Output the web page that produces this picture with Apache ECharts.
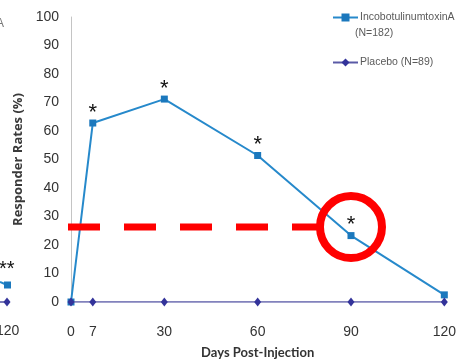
<!DOCTYPE html>
<html>
<head>
<meta charset="utf-8">
<script src="https://cdn.jsdelivr.net/npm/echarts@6/dist/echarts.min.js"></script>
<style>
  html, body { margin: 0; padding: 0; background: #fff; }
  #chart { width: 459px; height: 364px; }
</style>
</head>
<body>
<div id="chart"></div>
<script>
// Responder rates over time after injection
const days = [0, 7, 30, 60, 90, 120];
const dayTicks = [0, 7, 30, 60, 90, 120];
const incobot = [0, 62.8, 71.2, 51.4, 23.3, 2.5];
const placebo = [0, 0, 0, 0, 0, 0];
const significant = [false, true, true, true, true, false];
const seriesNames = ['IncobotulinumtoxinA', 'Placebo (N=89)'];
const highlightLevel = 26.3;   // level marked by the dashed guide
const highlightDay = 90;

const FONT = '"Liberation Sans", Arial, sans-serif';
const TITLE_FONT = 'Lato, "Open Sans", Arial, sans-serif';
const BLUE = '#2689cb';
const BLUE_MARK = '#1b78bd';
const PURPLE = '#5a5aa6';
const PURPLE_MARK = '#33339a';

const chart = echarts.init(document.getElementById('chart'), null, { renderer: 'canvas' });

const option = {
  animation: false,
  backgroundColor: '#fff',
  grid: { left: 71, right: 8, top: 17, bottom: 62, containLabel: false },
  legend: {
    left: 327, top: 7, orient: 'vertical', padding: 5,
    itemWidth: 25, itemHeight: 10, itemGap: 34,
    textStyle: { fontFamily: FONT, fontSize: 10.5, color: '#5a5a5a', padding: [0, 0, 0, -3] },
    data: seriesNames
  },
  xAxis: {
    type: 'value', min: 0, max: 120,
    name: 'Days Post-Injection', nameLocation: 'middle', nameGap: 44,
    nameTextStyle: { fontFamily: TITLE_FONT, fontWeight: 'bold', fontSize: 13, color: '#333' },
    axisLine: { show: false },
    axisTick: { show: false },
    splitLine: { show: false },
    axisLabel: {
      customValues: dayTicks, margin: 23,
      fontFamily: FONT, fontSize: 14, color: '#333'
    }
  },
  yAxis: {
    type: 'value', min: 0, max: 100, interval: 10,
    name: 'Responder Rates (%)', nameLocation: 'middle', nameGap: 33,
    nameTextStyle: { fontFamily: '"Open Sans", Arial, sans-serif', fontWeight: 'bold', fontSize: 13, color: '#3a3a3a' },
    axisLine: { show: true, lineStyle: { color: '#c4c4c4', width: 1 } },
    axisTick: { show: false },
    splitLine: { show: false },
    axisLabel: { margin: 12, fontFamily: FONT, fontSize: 14, color: '#333' }
  },
  series: [
    {
      name: seriesNames[0], type: 'line',
      data: days.map((d, i) => ({
        value: [d, incobot[i]],
        label: { show: significant[i] }
      })),
      symbol: 'rect', symbolSize: 7,
      lineStyle: { color: BLUE, width: 2 },
      itemStyle: { color: BLUE_MARK },
      label: {
        show: false, position: 'top', distance: -4,
        formatter: '*', fontFamily: 'Arial, sans-serif', fontSize: 22, color: '#111'
      },
      z: 3
    },
    {
      name: seriesNames[1], type: 'line',
      data: days.map((d, i) => [d, placebo[i]]),
      symbol: 'diamond', symbolSize: [7, 9],
      lineStyle: { color: PURPLE, width: 1.6 },
      itemStyle: { color: PURPLE_MARK },
      z: 4
    }
  ]
};

chart.setOption(option);

// Annotation: dashed guide to the highlighted point and a ring around it
const center = chart.convertToPixel({ gridIndex: 0 }, [highlightDay, highlightLevel]);
const axisLeft = chart.convertToPixel({ gridIndex: 0 }, [0, 0])[0];
const ringR = 31;

chart.setOption({
  graphic: [
    {
      type: 'line', silent: true, z: 10,
      shape: { x1: axisLeft - 3, y1: center[1], x2: center[0] - ringR, y2: center[1] },
      style: { stroke: '#ff0000', lineWidth: 7, lineDash: [32, 24] }
    },
    {
      type: 'circle', silent: true, z: 10,
      shape: { cx: center[0], cy: center[1], r: ringR },
      style: { fill: 'transparent', stroke: '#ff0000', lineWidth: 8 }
    },
    {
      type: 'text', left: 355, top: 28, silent: true,
      style: { text: '(N=182)', font: '10.5px ' + FONT, fill: '#5a5a5a' }
    },
    // Edge of the neighbouring panel
    {
      type: 'text', left: -4, top: 18, silent: true,
      style: { text: 'A', font: '12px ' + FONT, fill: '#777' }
    },
    {
      type: 'text', left: -1, top: 259, silent: true,
      style: { text: '**', font: '20px Arial, sans-serif', fill: '#111' }
    },
    {
      type: 'polyline', silent: true,
      shape: { points: [[0, 282], [7, 285]] },
      style: { stroke: BLUE, lineWidth: 2, fill: null }
    },
    {
      type: 'rect', silent: true,
      shape: { x: 4, y: 281.5, width: 7, height: 7 },
      style: { fill: BLUE_MARK }
    },
    {
      type: 'line', silent: true,
      shape: { x1: 0, y1: 302, x2: 8, y2: 302 },
      style: { stroke: PURPLE, lineWidth: 1.6 }
    },
    {
      type: 'polygon', silent: true,
      shape: { points: [[7, 297.5], [10.5, 302], [7, 306.5], [3.5, 302]] },
      style: { fill: PURPLE_MARK }
    },
    {
      type: 'text', left: -4, top: 324, silent: true,
      style: { text: '120', font: '14px ' + FONT, fill: '#333' }
    }
  ]
});
</script>
</body>
</html>
